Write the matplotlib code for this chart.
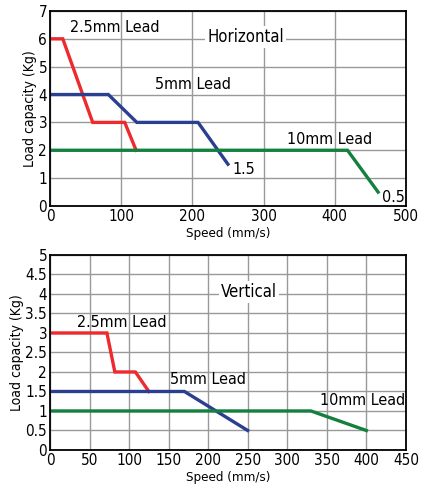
import matplotlib
matplotlib.use('Agg')
import matplotlib.pyplot as plt

plt.rcParams['font.family'] = ['DejaVu Sans']
plt.rcParams['font.stretch'] = 'condensed'

# Horizontal mounting
h_lead25_x = [0, 18, 60, 105, 121]
h_lead25_y = [6, 6, 3, 3, 2]
h_lead5_x = [0, 82, 122, 208, 250]
h_lead5_y = [4, 4, 3, 3, 1.5]
h_lead10_x = [0, 418, 461]
h_lead10_y = [2, 2, 0.5]

# Vertical mounting
v_lead25_x = [0, 72, 82, 108, 125]
v_lead25_y = [3, 3, 2, 2, 1.5]
v_lead5_x = [0, 170, 250]
v_lead5_y = [1.5, 1.5, 0.5]
v_lead10_x = [0, 330, 400]
v_lead10_y = [1, 1, 0.5]

red, blue, green = '#ee2a2e', '#2a3f90', '#13803e'
lw = 2.4

fig = plt.figure(figsize=(4.25, 4.97), dpi=100)
ax1 = fig.add_axes([0.1176, 0.5855, 0.8374, 0.3925])
ax2 = fig.add_axes([0.1176, 0.0946, 0.8374, 0.3924])

def style(ax, xticks, yticks, yticklabels):
    ax.set_xticks(xticks)
    ax.set_yticks(yticks)
    ax.set_yticklabels(yticklabels)
    ax.grid(True, color='#999999', lw=1.0)
    ax.set_axisbelow(True)
    ax.tick_params(length=0, labelsize=11, pad=2)
    for s in ax.spines.values():
        s.set_linewidth(1.3)
    ax.set_xlabel('Speed (mm/s)', fontsize=9.5, labelpad=2)
    ax.set_ylabel('Load capacity (Kg)', fontsize=10, labelpad=1)

# top chart
ax1.plot(h_lead25_x, h_lead25_y, color=red, lw=lw, solid_joinstyle='miter')
ax1.plot(h_lead5_x, h_lead5_y, color=blue, lw=lw, solid_joinstyle='miter')
ax1.plot(h_lead10_x, h_lead10_y, color=green, lw=lw, solid_joinstyle='miter')
ax1.set_xlim(0, 500)
ax1.set_ylim(0, 7)
style(ax1, range(0, 501, 100), range(0, 8), [str(v) for v in range(0, 8)])
ax1.text(28, 6.4, '2.5mm Lead', fontsize=11.5, va='center')
ax1.text(147, 4.36, '5mm Lead', fontsize=11.5, va='center')
ax1.text(333, 2.38, '10mm Lead', fontsize=11.5, va='center')
ax1.text(257, 1.3, '1.5', fontsize=11.5, va='center')
ax1.text(467, 0.3, '0.5', fontsize=11.5, va='center')
ax1.text(275, 6.05, 'Horizontal', fontsize=12, ha='center', va='center',
         bbox=dict(facecolor='white', edgecolor='none', pad=1.5))

# bottom chart
ax2.plot(v_lead25_x, v_lead25_y, color=red, lw=lw, solid_joinstyle='miter')
ax2.plot(v_lead5_x, v_lead5_y, color=blue, lw=lw, solid_joinstyle='miter')
ax2.plot(v_lead10_x, v_lead10_y, color=green, lw=lw, solid_joinstyle='miter')
ax2.set_xlim(0, 450)
ax2.set_ylim(0, 5)
yt = [i * 0.5 for i in range(11)]
style(ax2, range(0, 451, 50), yt, ['%g' % v for v in yt])
ax2.text(34, 3.27, '2.5mm Lead', fontsize=11.5, va='center')
ax2.text(152, 1.81, '5mm Lead', fontsize=11.5, va='center')
ax2.text(342, 1.26, '10mm Lead', fontsize=11.5, va='center')
ax2.text(252, 4.05, 'Vertical', fontsize=12, ha='center', va='center',
         bbox=dict(facecolor='white', edgecolor='none', pad=1.5))

fig.savefig('out.png', dpi=100)
